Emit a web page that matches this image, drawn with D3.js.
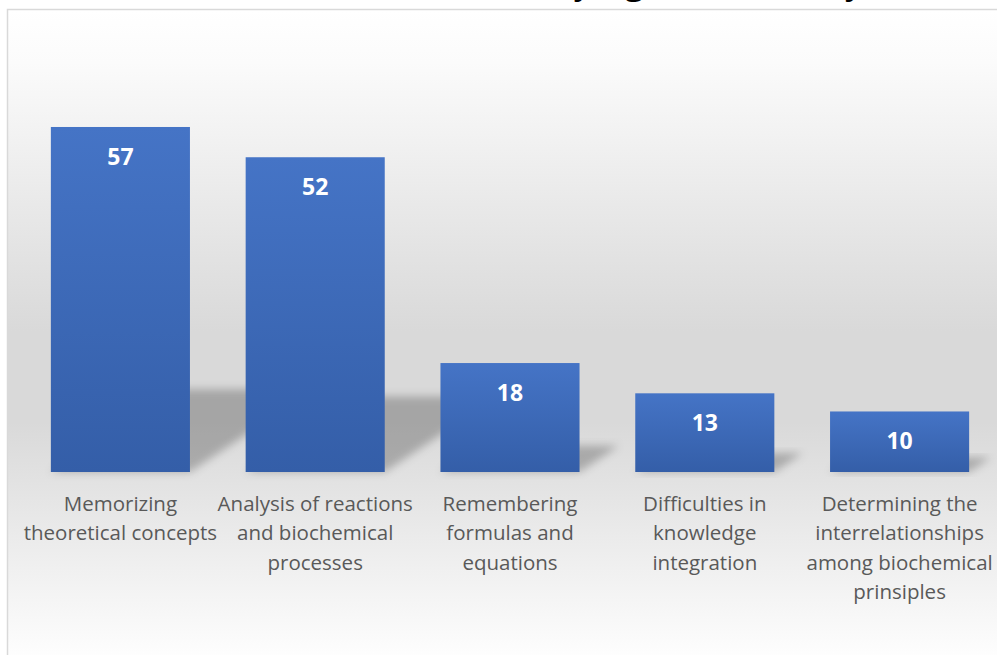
<!DOCTYPE html>
<html>
<head>
<meta charset="utf-8">
<script src="https://cdn.jsdelivr.net/npm/d3@7"></script>
<style>
  html, body { margin: 0; padding: 0; background: #ffffff; }
  svg { display: block; }
</style>
</head>
<body>
<svg id="chart" width="997" height="655"></svg>
<script>
// ---- data ----
const title = "Difficulties in studying biochemistry";
const categories = [
  "Memorizing theoretical concepts",
  "Analysis of reactions and biochemical processes",
  "Remembering formulas and equations",
  "Difficulties in knowledge integration",
  "Determining the interrelationships among biochemical prinsiples"
];
const values = [57, 52, 18, 13, 10];
const tickLabels = [
  ["Memorizing", "theoretical concepts"],
  ["Analysis of reactions", "and biochemical", "processes"],
  ["Remembering", "formulas and", "equations"],
  ["Difficulties in", "knowledge", "integration"],
  ["Determining the", "interrelationships", "among biochemical", "prinsiples"]
];

// ---- setup ----
const W = 997, H = 655;
const svg = d3.select("#chart");
const defs = svg.append("defs");

const bg = defs.append("linearGradient").attr("id", "bgGrad")
  .attr("gradientUnits", "userSpaceOnUse")
  .attr("x1", 0).attr("y1", 10).attr("x2", 0).attr("y2", 665);
[[0, "#ffffff"], [0.08, "#fbfbfb"], [0.49, "#d9d9d9"], [0.63, "#d9d9d9"], [1, "#ffffff"]]
  .forEach(([o, c]) => bg.append("stop").attr("offset", o).attr("stop-color", c));

const barGrad = defs.append("linearGradient").attr("id", "barGrad")
  .attr("x1", 0).attr("y1", 0).attr("x2", 0).attr("y2", 1);
barGrad.append("stop").attr("offset", 0).attr("stop-color", "#4574c6");
barGrad.append("stop").attr("offset", 1).attr("stop-color", "#345ea8");

const blur = defs.append("filter").attr("id", "shadowBlur")
  .attr("x", "-30%").attr("y", "-30%").attr("width", "160%").attr("height", "160%");
blur.append("feGaussianBlur").attr("stdDeviation", 4);

// chart area
svg.append("rect")
  .attr("x", 7.5).attr("y", 9.5).attr("width", 1100).attr("height", 700)
  .attr("fill", "url(#bgGrad)")
  .attr("stroke", "#d9d9d9").attr("stroke-width", 1.5);

// title (cropped at top, as in the reference)
svg.append("text")
  .attr("x", 276).attr("y", -6)
  .attr("text-anchor", "start")
  .attr("font-family", "'Liberation Serif', 'Times New Roman', serif")
  .attr("font-weight", "bold")
  .attr("font-size", 38)
  .attr("fill", "#000000")
  .text(title);

// scales
const x = d3.scaleBand().domain(categories).range([23, 997])
  .paddingInner(0.286).paddingOuter(0.143);
const y = d3.scaleLinear().domain([0, 60]).range([472, 472 - 60 * 6.053]);

const data = categories.map((c, i) => ({ c, v: values[i], lines: tickLabels[i] }));

// perspective shadows
const skew = 1.5, shadowRatio = 0.24;
svg.append("g").selectAll("path").data(data).join("path")
  .attr("d", d => {
    const x0 = x(d.c), x1 = x(d.c) + x.bandwidth();
    const h = (y(0) - y(d.v)) * shadowRatio;
    const b = y(0);
    return `M${x0},${b}L${x1},${b}L${x1 + skew * h},${b - h}L${x0 + skew * h},${b - h}Z`;
  })
  .attr("fill", "#000")
  .attr("fill-opacity", 0.24)
  .attr("filter", "url(#shadowBlur)");

// bars
const barG = svg.append("g");
barG.selectAll("rect").data(data).join("rect")
  .attr("x", d => x(d.c))
  .attr("y", d => y(d.v))
  .attr("width", x.bandwidth())
  .attr("height", d => y(0) - y(d.v))
  .attr("fill", "url(#barGrad)");

// value labels
barG.selectAll("text").data(data).join("text")
  .attr("x", d => x(d.c) + x.bandwidth() / 2)
  .attr("y", d => y(d.v) + 38)
  .attr("text-anchor", "middle")
  .attr("font-family", "'Open Sans', sans-serif")
  .attr("font-weight", 700)
  .attr("font-size", 23)
  .attr("fill", "#ffffff")
  .text(d => d.v);

// category axis
const axisG = svg.append("g").attr("transform", `translate(0,${y(0)})`)
  .call(d3.axisBottom(x).tickSize(0).tickPadding(0));
axisG.select(".domain").remove();
axisG.selectAll(".tick text").each(function (c, i) {
  const t = d3.select(this);
  t.text(null)
    .attr("y", 0).attr("dy", null)
    .attr("font-family", "'Open Sans', sans-serif")
    .attr("font-size", 20.5)
    .attr("fill", "#595959");
  tickLabels[i].forEach((line, j) => {
    t.append("tspan").attr("x", 0).attr("y", 38.5 + j * 29.5).text(line);
  });
});
</script>
</body>
</html>
